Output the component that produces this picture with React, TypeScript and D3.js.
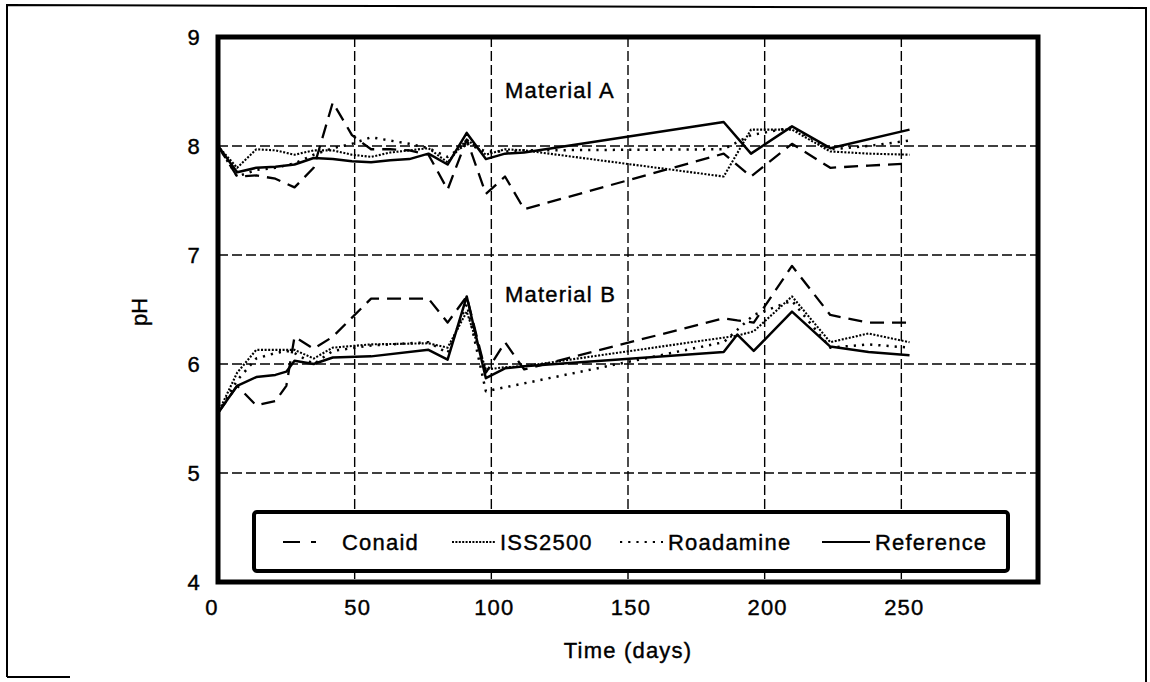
import { useEffect, useRef } from 'react';
import * as d3 from 'd3';

// sampling days, shared by the series of each material (null = no reading)
const daysA = [0, 7, 14, 21, 28, 35, 42, 49, 56, 63, 70, 77, 84, 91, 98, 105, 112, 185, 195, 210, 224, 238, 253];
const conaidA = [8.0, 7.72, 7.73, 7.7, 7.62, 7.8, 8.4, 8.1, 7.97, 7.97, 7.96, 7.92, 7.6, 8.06, 7.56, 7.72, 7.42, 7.93, 7.72, 8.02, 7.8, 7.82, 7.84];
const iss2500A = [8.0, 7.8, 7.97, 7.96, 7.92, 7.96, 7.96, 7.92, 7.9, 7.94, 7.96, 7.98, 7.85, 8.06, 7.92, 7.97, 7.96, 7.72, 8.15, 8.15, 7.95, 7.93, 7.92];
const roadamineA = [8.0, 7.72, 7.78, 7.8, 7.84, 7.92, 7.98, 8.02, 8.08, 8.05, 8.02, 7.98, 7.9, 8.02, 7.95, 7.95, 7.96, 7.97, 8.1, 8.17, 7.97, 8.0, 8.05];
const referenceA = [8.0, 7.76, 7.8, 7.81, 7.83, 7.89, 7.88, 7.86, 7.85, 7.87, 7.88, 7.93, 7.83, 8.12, 7.88, 7.93, 7.94, 8.22, 7.93, 8.18, 7.98, null, 8.15];

const daysB = [0, 7, 14, 21, 25, 28, 35, 42, 56, 77, 84, 91, 98, 105, 112, 185, 190, 196, 210, 224, 238, 253];
const conaidB = [5.55, 5.8, 5.62, 5.66, 5.8, 6.25, 6.14, 6.25, 6.6, 6.6, 6.38, 6.62, 5.92, 6.2, 5.95, 6.42, 6.4, 6.38, 6.9, 6.45, 6.38, 6.38];
const iss2500B = [5.55, 5.92, 6.13, 6.13, 6.13, 6.13, 6.05, 6.15, 6.18, 6.19, 6.15, 6.48, 5.95, 5.97, 5.98, null, 6.26, 6.3, 6.62, 6.2, 6.28, 6.2];
const roadamineB = [5.55, 5.85, 6.05, 6.1, 6.12, 6.1, 6.0, 6.12, 6.17, 6.2, 6.1, 6.55, 5.75, null, null, 6.2, null, 6.45, 6.58, 6.15, 6.18, 6.15];
const referenceB = [5.55, 5.8, 5.88, 5.9, 5.93, 6.03, 6.0, 6.06, 6.07, 6.13, 6.04, 6.62, 5.87, 5.96, 5.98, 6.11, 6.27, 6.12, 6.48, 6.16, 6.11, 6.08];

const xTicks = [0, 50, 100, 150, 200, 250];
const yTicks = [4, 5, 6, 7, 8, 9];
const seriesNames = ['Conaid', 'ISS2500', 'Roadamine', 'Reference'];

const FONT = '"Liberation Sans", Arial, sans-serif';

export default function App() {
  const rootRef = useRef<HTMLDivElement>(null);

  useEffect(() => {
    const container = rootRef.current;
    if (!container) return undefined;
    d3.select(container).selectAll('*').remove();

    const width = 1150;
    const height = 682;
    const plot = { left: 218, right: 1038, top: 37, bottom: 582 };

    const svg = d3
      .select(container)
      .append('svg')
      .attr('width', width)
      .attr('height', height)
      .style('position', 'absolute')
      .style('left', '0px')
      .style('top', '0px')
      .style('background', '#fff');

    const x = d3.scaleLinear().domain([0, 300]).range([plot.left, plot.right]);
    const y = d3.scaleLinear().domain([4, 9]).range([plot.bottom, plot.top]);

    // outer frame (scanned page border, bottom mostly missing)
    const frame = svg.append('g').attr('stroke', '#000').attr('stroke-width', 2).attr('fill', 'none');
    frame.append('path').attr('d', 'M7,677 L7,5 L1146,8 L1146,682');
    frame.append('path').attr('d', 'M7,677 L70,677');

    // grid
    const grid = svg.append('g').attr('stroke', '#000').attr('stroke-width', 1.4).attr('stroke-dasharray', '10,4');
    yTicks.filter(t => t > 4 && t < 9).forEach(t => {
      grid.append('line').attr('x1', plot.left).attr('x2', plot.right).attr('y1', y(t)).attr('y2', y(t));
    });
    xTicks.filter(t => t > 0).forEach(t => {
      grid.append('line').attr('x1', x(t)).attr('x2', x(t)).attr('y1', plot.top).attr('y2', plot.bottom);
    });

    const styles = [
      { dash: '14,8', width: 2.3 },
      { dash: '2,1.6', width: 2.1 },
      { dash: '2.2,6', width: 2.5 },
      { dash: null, width: 2.5 },
    ];

    const line = d3
      .line<[number, number]>()
      .x(d => x(d[0]))
      .y(d => y(d[1]));

    const drawSeries = (days: number[], values: (number | null)[], idx: number) => {
      const pts = days
        .map((d, i) => [d, values[i]] as [number, number | null])
        .filter(p => p[1] !== null) as [number, number][];
      const path = svg
        .append('path')
        .datum(pts)
        .attr('fill', 'none')
        .attr('stroke', '#000')
        .attr('stroke-width', styles[idx].width)
        .attr('stroke-linejoin', 'round')
        .attr('d', line);
      if (styles[idx].dash) path.attr('stroke-dasharray', styles[idx].dash);
    };

    [conaidA, iss2500A, roadamineA, referenceA].forEach((v, i) => drawSeries(daysA, v, i));
    [conaidB, iss2500B, roadamineB, referenceB].forEach((v, i) => drawSeries(daysB, v, i));

    // plot border
    svg
      .append('rect')
      .attr('x', plot.left)
      .attr('y', plot.top)
      .attr('width', plot.right - plot.left)
      .attr('height', plot.bottom - plot.top)
      .attr('fill', 'none')
      .attr('stroke', '#000')
      .attr('stroke-width', 5);

    const text = (tx: number, ty: number, label: string, anchor = 'start') =>
      svg
        .append('text')
        .attr('x', tx)
        .attr('y', ty)
        .attr('text-anchor', anchor)
        .attr('font-family', FONT)
        .attr('font-size', 22)
        .attr('letter-spacing', 1.2)
        .attr('fill', '#000')
        .attr('stroke', '#000')
        .attr('stroke-width', 0.4)
        .text(label);

    yTicks.forEach(t => text(201, y(t) + 8, String(t), 'end'));
    xTicks.forEach(t => text(t === 0 ? x(t) - 6 : x(t) + 3, 615, String(t), 'middle'));

    text(628, 658, 'Time (days)', 'middle');
    svg
      .append('text')
      .attr('transform', `translate(147,312) rotate(-90)`)
      .attr('text-anchor', 'middle')
      .attr('font-family', FONT)
      .attr('font-size', 22)
      .attr('stroke', '#000')
      .attr('stroke-width', 0.4)
      .text('pH');

    text(505, 98, 'Material A');
    text(505, 302, 'Material B');

    // legend
    const legend = svg.append('g');
    legend
      .append('rect')
      .attr('x', 254)
      .attr('y', 512)
      .attr('width', 754)
      .attr('height', 59)
      .attr('rx', 3)
      .attr('fill', '#fff')
      .attr('stroke', '#000')
      .attr('stroke-width', 4);

    const legendItems = [
      { x1: 283, x2: 317, tx: 342, dash: '17,11,5,40' },
      { x1: 452, x2: 495, tx: 500, dash: '2,1.4' },
      { x1: 620, x2: 663, tx: 668, dash: '2.2,6' },
      { x1: 822, x2: 870, tx: 875, dash: null },
    ];
    legendItems.forEach((item, i) => {
      const l = legend
        .append('line')
        .attr('x1', item.x1)
        .attr('x2', item.x2)
        .attr('y1', 542)
        .attr('y2', 542)
        .attr('stroke', '#000')
        .attr('stroke-width', 2.2);
      if (item.dash) l.attr('stroke-dasharray', item.dash);
      text(item.tx, 550, seriesNames[i]);
    });

    return () => {
      d3.select(container).selectAll('*').remove();
    };
  }, []);

  return <div ref={rootRef} />;
}
